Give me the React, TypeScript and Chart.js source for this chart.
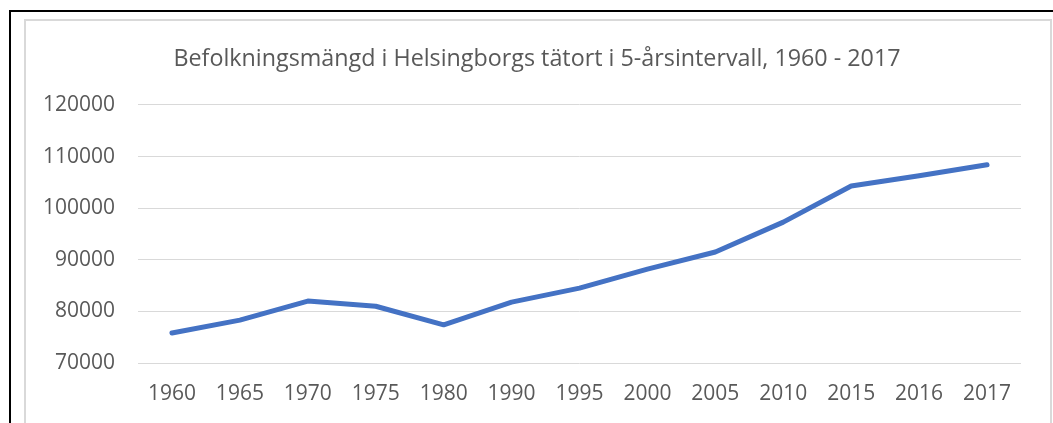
import React, { useEffect, useRef } from "react";
import { Chart, registerables } from "chart.js";

Chart.register(...registerables);

const chartTitle = "Befolkningsmängd i Helsingborgs tätort i 5-årsintervall, 1960 - 2017";
const years = ["1960", "1965", "1970", "1975", "1980", "1990", "1995", "2000", "2005", "2010", "2015", "2016", "2017"];
const population = [75800, 78300, 82000, 81000, 77400, 81800, 84500, 88200, 91500, 97300, 104300, 106300, 108400];
const yMin = 70000;
const yMax = 120000;
const yStep = 10000;

const FONT = "'Open Sans', sans-serif";
const TEXT = "#595959";

export default function App() {
  const ref = useRef<HTMLCanvasElement | null>(null);

  useEffect(() => {
    if (!ref.current) return;
    const chart = new Chart(ref.current, {
      type: "line",
      data: {
        labels: years,
        datasets: [
          {
            data: population,
            borderColor: "#4472C4",
            backgroundColor: "#4472C4",
            borderWidth: 5,
            borderCapStyle: "round",
            borderJoinStyle: "round",
            pointRadius: 0,
            pointHoverRadius: 0,
            tension: 0,
            fill: false,
          },
        ],
      },
      options: {
        responsive: false,
        animation: false,
        devicePixelRatio: 1,
        layout: { padding: { left: 24, right: 3, top: 19, bottom: 0 } },
        plugins: {
          legend: { display: false },
          tooltip: { enabled: false },
          title: {
            display: true,
            text: chartTitle,
            color: TEXT,
            font: { family: FONT, size: 23.3, weight: "normal" },
            padding: { top: 26, bottom: 32 },
          },
        },
        scales: {
          x: {
            offset: true,
            grid: { display: false, drawTicks: false },
            border: { display: false },
            ticks: {
              color: TEXT,
              font: { family: FONT, size: 21 },
              padding: 18,
              maxRotation: 0,
              autoSkip: false,
            },
            afterFit: (s: any) => {
              s.height = 60;
            },
          },
          y: {
            min: yMin,
            max: yMax,
            grid: { color: "#d9d9d9", lineWidth: 1, drawTicks: false },
            border: { display: false },
            ticks: {
              stepSize: yStep,
              color: TEXT,
              font: { family: FONT, size: 21 },
              padding: 23,
              callback: (v: any) => String(v),
            },
            afterFit: (s: any) => {
              s.width = 114;
            },
          },
          yR: {
            position: "right",
            display: true,
            grid: { display: false, drawTicks: false },
            border: { display: false },
            ticks: { display: false },
            afterFit: (s: any) => {
              s.width = 29;
            },
          },
        },
      },
    });
    return () => chart.destroy();
  }, []);

  return (
    <div style={{ position: "absolute", left: 0, top: 0, width: 1053, height: 423, overflow: "hidden", background: "#fff" }}>
      <div
        style={{
          position: "absolute",
          left: 9,
          top: 10,
          width: 1100,
          height: 500,
          borderLeft: "2px solid #000",
          borderTop: "2px solid #000",
          boxSizing: "border-box",
        }}
      />
      <div
        style={{
          position: "absolute",
          left: 24,
          top: 19,
          width: 1028,
          height: 500,
          border: "2px solid #d9d9d9",
          boxSizing: "border-box",
        }}
      />
      <canvas ref={ref} width={1053} height={423} style={{ position: "absolute", left: 0, top: 0, width: 1053, height: 423 }} />
    </div>
  );
}
